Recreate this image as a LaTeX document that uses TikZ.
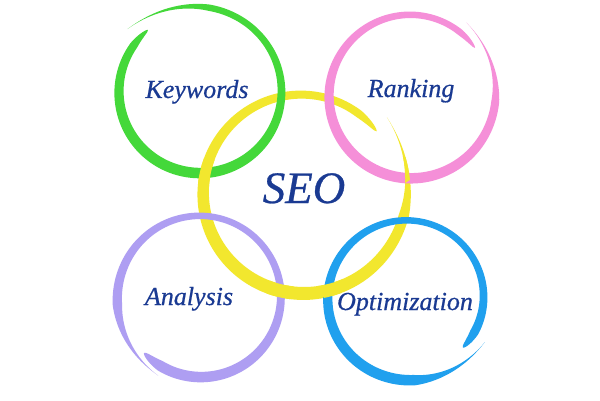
\documentclass[tikz,border=0pt]{standalone}
\usepackage{fontspec}
\setmainfont{Liberation Serif}
\newfontface\lblface{Liberation Serif Italic}[FakeBold=0.6]
\definecolor{ringgreen}{HTML}{44D83A}
\definecolor{ringpink}{HTML}{F58FD8}
\definecolor{ringyellow}{HTML}{F2E72E}
\definecolor{ringpurple}{HTML}{AE9EF2}
\definecolor{ringblue}{HTML}{20A0EE}
\definecolor{txtblue}{HTML}{1A3A92}
% brush ring: cx cy r startangle sweep(clockwise) startdrift enddrift width colour
\def\bA{(\ba-\bsw*\s)}
\def\bR{(\br+\bdr*exp(-\s*\bsw/40)-\bde*\s*\s*\s*\s*\s*\s)}
\def\bWd{(\bW*min(1,\s/0.15)*sqrt(min(1,\s/0.15))*sqrt(max(0,min(1,(1-\s)/0.04)))*(1+0.25*cos(\bA-250)))}
\newcommand\brushring[9]{%
  \def\bcx{#1}\def\bcy{#2}\def\br{#3}\def\ba{#4}\def\bsw{#5}\def\bdr{#6}\def\bde{#7}\def\bW{#8}%
  \fill[#9] plot[domain=0:1,samples=300,variable=\s]
      ({\bcx+(\bR+0.5*\bWd)*cos(\bA)},{\bcy+(\bR+0.5*\bWd)*sin(\bA)})
    -- plot[domain=1:0,samples=300,variable=\s]
      ({\bcx+(\bR-0.5*\bWd)*cos(\bA)},{\bcy+(\bR-0.5*\bWd)*sin(\bA)})
    -- cycle;}
\tikzset{
  label/.style={text=txtblue, font=\fontsize{26}{30}\selectfont\lblface, anchor=base, inner sep=0pt},
  biglabel/.style={text=txtblue, font=\fontsize{45}{50}\selectfont\lblface, anchor=base, inner sep=0pt}
}
\begin{document}
\begin{tikzpicture}[x=1pt,y=1pt]
\fill[white] (0,0) rectangle (600,400);
\useasboundingbox (0,0) rectangle (600,400);
% yellow centre ring
\brushring{303}{207}{100}{42}{362}{13}{4}{10.5}{ringyellow}
% outer rings
\brushring{200}{308}{81}{139}{369}{15}{0}{8.5}{ringgreen}
\brushring{411}{304}{82}{53}{376}{10}{2}{8.5}{ringpink}
\brushring{200}{103}{81}{242}{377}{8}{2}{8.5}{ringpurple}
\brushring{407}{101}{79}{-29}{372}{10}{5}{8.5}{ringblue}
% yellow over at some crossings
\begin{scope}
  \clip (208,228) circle (14) (400,230) circle (14) (280,110) circle (14) (330,115) circle (14);
  \brushring{303}{207}{100}{42}{362}{13}{4}{10.5}{ringyellow}
\end{scope}
% texts
\node[label] (kw) at (197,302) {Keywords};
\node[label] (rk) at (411,303) {Ranking};
\node[label] (an) at (189,95) {Analysis};
\node[label] (op) at (405,90) {Optimization};
\node[biglabel] (seo) at (304,197) {SEO};
\end{tikzpicture}
\end{document}
